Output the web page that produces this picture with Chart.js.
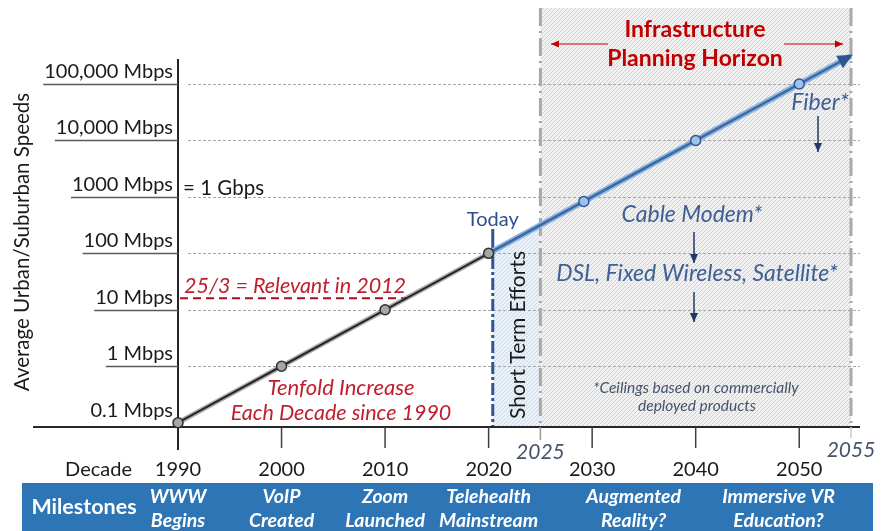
<!DOCTYPE html>
<html>
<head>
<meta charset="utf-8">
<script src="https://cdn.jsdelivr.net/npm/chart.js@4.4.1/dist/chart.umd.min.js"></script>
<style>
  html, body { margin: 0; padding: 0; background: #fff; }
  canvas { display: block; }
</style>
</head>
<body>
<canvas id="speedChart" width="883" height="531"></canvas>
<script>
// --- data ---
const pastYears = [1990, 2000, 2010, 2020];
const pastSpeeds = [0.1, 1, 10, 100];
const futureYears = [2020, 2029.2, 2040, 2050, 2055];
const futureSpeeds = [100, 830, 10000, 100000, 316000];
const futureDots = [false, true, true, true, false];

const speedTicks = [100000, 10000, 1000, 100, 10, 1, 0.1];
const speedTickLabels = ['100,000 Mbps', '10,000 Mbps', '1000 Mbps', '100 Mbps', '10 Mbps', '1 Mbps', '0.1 Mbps'];
const decadeTicks = [1990, 2000, 2010, 2020, 2030, 2040, 2050];
const decadeLabels = ['1990', '2000', '2010', '2020', '2030', '2040', '2050'];

const milestoneYears = [1990, 2000, 2010, 2020, 2034, 2048];
const milestoneLabels = [
  ['WWW', 'Begins'], ['VoIP', 'Created'], ['Zoom', 'Launched'],
  ['Telehealth', 'Mainstream'], ['Augmented', 'Reality?'], ['Immersive VR', 'Education?']
];

const todayYear = 2020.4;
const horizonStart = 2025;
const horizonEnd = 2055;
const relevantSpeed = 16;      // the "25/3" dashed line
const relevantEndYear = 2012.1;

const FONT = 'Lato, "Open Sans", sans-serif';

function hatch(bg, fg) {
  const c = document.createElement('canvas');
  c.width = 4; c.height = 4;
  const g = c.getContext('2d');
  g.fillStyle = bg;
  g.fillRect(0, 0, 4, 4);
  g.strokeStyle = fg;
  g.lineWidth = 1;
  g.beginPath();
  g.moveTo(0, 4); g.lineTo(4, 0);
  g.moveTo(-1, 1); g.lineTo(1, -1);
  g.moveTo(3, 5); g.lineTo(5, 3);
  g.stroke();
  return g.createPattern(c, 'repeat');
}

function line(ctx, x1, y1, x2, y2, color, width, dash) {
  ctx.save();
  ctx.strokeStyle = color;
  ctx.lineWidth = width;
  ctx.setLineDash(dash || []);
  ctx.beginPath();
  ctx.moveTo(x1, y1);
  ctx.lineTo(x2, y2);
  ctx.stroke();
  ctx.restore();
}

function arrow(ctx, x1, y1, x2, y2, color, width, head) {
  line(ctx, x1, y1, x2, y2, color, width);
  const a = Math.atan2(y2 - y1, x2 - x1);
  ctx.save();
  ctx.fillStyle = color;
  ctx.translate(x2, y2);
  ctx.rotate(a);
  ctx.beginPath();
  ctx.moveTo(0, 0);
  ctx.lineTo(-head, -head * 0.45);
  ctx.lineTo(-head, head * 0.45);
  ctx.closePath();
  ctx.fill();
  ctx.restore();
}

function text(ctx, str, x, y, font, color, align) {
  ctx.save();
  ctx.font = font;
  ctx.fillStyle = color;
  ctx.textAlign = align || 'center';
  ctx.textBaseline = 'middle';
  ctx.fillText(str, x, y);
  ctx.restore();
}

// backgrounds, grid and axes under the lines
const backdrop = {
  id: 'backdrop',
  beforeDatasetsDraw(chart) {
    const { ctx, chartArea, scales: { x, y } } = chart;
    const bottom = chartArea.bottom;
    const hx0 = x.getPixelForValue(horizonStart);
    const hx1 = x.getPixelForValue(horizonEnd);
    const tx = x.getPixelForValue(todayYear);

    // planning horizon box
    ctx.save();
    ctx.fillStyle = hatch('#f1f1f1', '#d2d2d2');
    ctx.fillRect(hx0, 8, hx1 - hx0, bottom - 8);
    ctx.restore();

    // short term efforts, under the projected line
    const pts = chart.getDatasetMeta(2).data;
    const p0 = pts[0], p1 = pts[1];
    const yAt = px => p0.y + (p1.y - p0.y) * (px - p0.x) / (p1.x - p0.x);
    ctx.save();
    ctx.fillStyle = hatch('#e9f1fa', '#c9dcf0');
    ctx.beginPath();
    ctx.moveTo(tx, bottom);
    ctx.lineTo(tx, yAt(tx));
    ctx.lineTo(hx0, yAt(hx0));
    ctx.lineTo(hx0, bottom);
    ctx.closePath();
    ctx.fill();
    ctx.restore();

    // dashed grid lines
    speedTicks.forEach(v => {
      if (v <= 0.1) return;
      const py = Math.round(y.getPixelForValue(v)) + 0.5;
      line(ctx, 188, py, 860, py, '#a6a6a6', 1, [3, 2]);
    });

    // horizon borders
    [hx0, hx1].forEach(px => line(ctx, px, 8, px, bottom, '#a8a8a8', 3, [18, 5, 2, 5]));

    // today marker
    line(ctx, tx, 229, tx, 257, '#2f5597', 3);
    line(ctx, tx, 257, tx, bottom, '#2f5597', 3, [12, 3, 3, 3]);

    // red 25/3 dashed level
    const ry = y.getPixelForValue(relevantSpeed);
    line(ctx, x.getPixelForValue(1990) + 2, ry, x.getPixelForValue(relevantEndYear), ry, '#a50f1e', 2, [8, 5]);

    // axes
    const ax = x.getPixelForValue(1990);
    line(ctx, 33, bottom, 860, bottom, '#262626', 2);
    line(ctx, ax, 59, ax, 450, '#262626', 2);
    decadeTicks.forEach(v => {
      if (v === 1990) return;
      const px = x.getPixelForValue(v);
      line(ctx, px, bottom, px, 448, '#404040', 1.5);
    });
    line(ctx, hx0, bottom, hx0, 440, '#9a9a9a', 1.5);
    line(ctx, hx1, bottom, hx1, 438, '#c8c8c8', 1.5);

    // y tick labels with underlines
    ctx.save();
    ctx.font = '20px ' + FONT;
    speedTicks.forEach((v, i) => {
      const py = y.getPixelForValue(v);
      const w = ctx.measureText(speedTickLabels[i]).width;
      const right = ax - 5;
      ctx.fillStyle = '#1a1a1a';
      ctx.textAlign = 'right';
      ctx.textBaseline = 'alphabetic';
      ctx.fillText(speedTickLabels[i], right, py - 6);
      if (v > 0.1) line(ctx, right - w - 1, Math.round(py) + 0.5, ax, Math.round(py) + 0.5, '#595959', 1.5);
    });
    ctx.restore();
  }
};

// arrowhead, labels and the milestone band over everything
const labels = {
  id: 'labels',
  afterDatasetsDraw(chart) {
    const { ctx, scales: { x } } = chart;

    // arrowhead at the end of the projection
    const pts = chart.getDatasetMeta(2).data;
    const a = pts[pts.length - 2], b = pts[pts.length - 1];
    const ang = Math.atan2(b.y - a.y, b.x - a.x);
    ctx.save();
    ctx.fillStyle = '#2f5597';
    ctx.translate(b.x, b.y);
    ctx.rotate(ang);
    ctx.beginPath();
    ctx.moveTo(2, 0);
    ctx.lineTo(-13, -7);
    ctx.lineTo(-13, 7);
    ctx.closePath();
    ctx.fill();
    ctx.restore();

    // axis title
    ctx.save();
    ctx.translate(22, 242);
    ctx.rotate(-Math.PI / 2);
    text(ctx, 'Average Urban/Suburban Speeds', 0, 0, '20.5px ' + FONT, '#1a1a1a');
    ctx.restore();

    text(ctx, '= 1 Gbps', 183, 188, '20.5px ' + FONT, '#1a1a1a', 'left');

    // decade labels
    text(ctx, 'Decade', 132, 470, '20px ' + FONT, '#1a1a1a', 'right');
    decadeTicks.forEach((v, i) => text(ctx, decadeLabels[i], x.getPixelForValue(v), 470, '20px ' + FONT, '#1a1a1a'));
    text(ctx, '2025', x.getPixelForValue(horizonStart), 452, 'italic 21px ' + FONT, '#44546a');
    text(ctx, '2055', x.getPixelForValue(horizonEnd), 450, 'italic 21px ' + FONT, '#44546a');

    // left side annotations
    const red = '#be1e2d';
    text(ctx, '25/3 = Relevant in 2012', 295, 286, 'italic 21.5px ' + FONT, red);
    text(ctx, 'Tenfold Increase', 341, 388, 'italic 22px ' + FONT, red);
    text(ctx, 'Each Decade since 1990', 341, 413, 'italic 21.5px ' + FONT, red);

    const tx = x.getPixelForValue(todayYear);
    text(ctx, 'Today', tx, 220, '20px ' + FONT, '#2f4f8f');
    ctx.save();
    ctx.translate(518, 335);
    ctx.rotate(-Math.PI / 2);
    text(ctx, 'Short Term Efforts', 0, 0, '21px ' + FONT, '#1a1a1a');
    ctx.restore();

    // planning horizon
    text(ctx, 'Infrastructure', 695, 30, 'bold 23px ' + FONT, '#c00000');
    text(ctx, 'Planning Horizon', 695, 59, 'bold 23px ' + FONT, '#c00000');
    arrow(ctx, 608, 44, 551, 44, '#c00000', 1, 8);
    arrow(ctx, 784, 44, 843, 44, '#c00000', 1, 8);

    const blue = '#3f5f95', navy = '#1f3864';
    text(ctx, 'Fiber*', 820, 103, 'italic 23px ' + FONT, blue);
    arrow(ctx, 818, 116, 818, 152, navy, 1.5, 9);
    text(ctx, 'Cable Modem*', 692, 215, 'italic 23px ' + FONT, blue);
    arrow(ctx, 694, 232, 694, 263, navy, 1.5, 9);
    text(ctx, 'DSL, Fixed Wireless, Satellite*', 697, 274, 'italic 23px ' + FONT, blue);
    arrow(ctx, 694, 292, 694, 322, navy, 1.5, 9);
    text(ctx, '*Ceilings based on commercially', 696, 388, 'italic 15.5px ' + FONT, '#44546a');
    text(ctx, 'deployed products', 697, 406, 'italic 15.5px ' + FONT, '#44546a');

    // milestones band
    ctx.save();
    ctx.fillStyle = '#2e75b6';
    ctx.fillRect(22, 483, 851, 48);
    ctx.restore();
    text(ctx, 'Milestones', 84, 507, 'bold 21.5px ' + FONT, '#ffffff');
    milestoneYears.forEach((v, i) => {
      const px = x.getPixelForValue(v);
      text(ctx, milestoneLabels[i][0], px, 497, 'italic bold 19.5px ' + FONT, '#ffffff');
      text(ctx, milestoneLabels[i][1], px, 521, 'italic bold 19.5px ' + FONT, '#ffffff');
    });
  }
};

function toPoints(xs, ys) {
  return xs.map((v, i) => ({ x: v, y: ys[i] }));
}

function drawChart() {
  new Chart(document.getElementById('speedChart'), {
    type: 'line',
    data: {
      datasets: [
        {
          data: toPoints(pastYears, pastSpeeds),
          borderColor: '#262626',
          borderWidth: 2,
          pointRadius: 5,
          pointBackgroundColor: '#a6a6a6',
          pointBorderColor: '#303030',
          pointBorderWidth: 1.5,
          order: 0
        },
        {
          data: toPoints(pastYears, pastSpeeds),
          borderColor: 'rgba(120,120,120,0.6)',
          borderWidth: 5,
          pointRadius: 0,
          order: 1
        },
        {
          data: toPoints(futureYears, futureSpeeds),
          borderColor: '#3b6aa0',
          borderWidth: 2.5,
          pointRadius: futureDots.map(d => d ? 5 : 0),
          pointBackgroundColor: '#9dc3e6',
          pointBorderColor: '#2f5597',
          pointBorderWidth: 1.5,
          order: 2
        },
        {
          data: toPoints(futureYears, futureSpeeds),
          borderColor: '#8db3e2',
          borderWidth: 6,
          pointRadius: 0,
          order: 3
        }
      ]
    },
    options: {
      responsive: false,
      animation: false,
      events: [],
      layout: { padding: { left: 178, right: 32, top: 84, bottom: 104 } },
      elements: { line: { tension: 0 } },
      datasets: { line: { clip: false } },
      scales: {
        x: { type: 'linear', display: false, min: 1990, max: 2055, bounds: 'data' },
        y: { type: 'logarithmic', display: false, min: 0.0839, max: 100000, bounds: 'data' }
      },
      plugins: {
        legend: { display: false },
        tooltip: { enabled: false }
      }
    },
    plugins: [backdrop, labels]
  });
}

Promise.all([
  document.fonts.load('20px Lato'),
  document.fonts.load('italic 20px Lato'),
  document.fonts.load('bold 20px Lato'),
  document.fonts.load('italic bold 20px Lato')
]).then(drawChart, drawChart);
</script>
</body>
</html>
